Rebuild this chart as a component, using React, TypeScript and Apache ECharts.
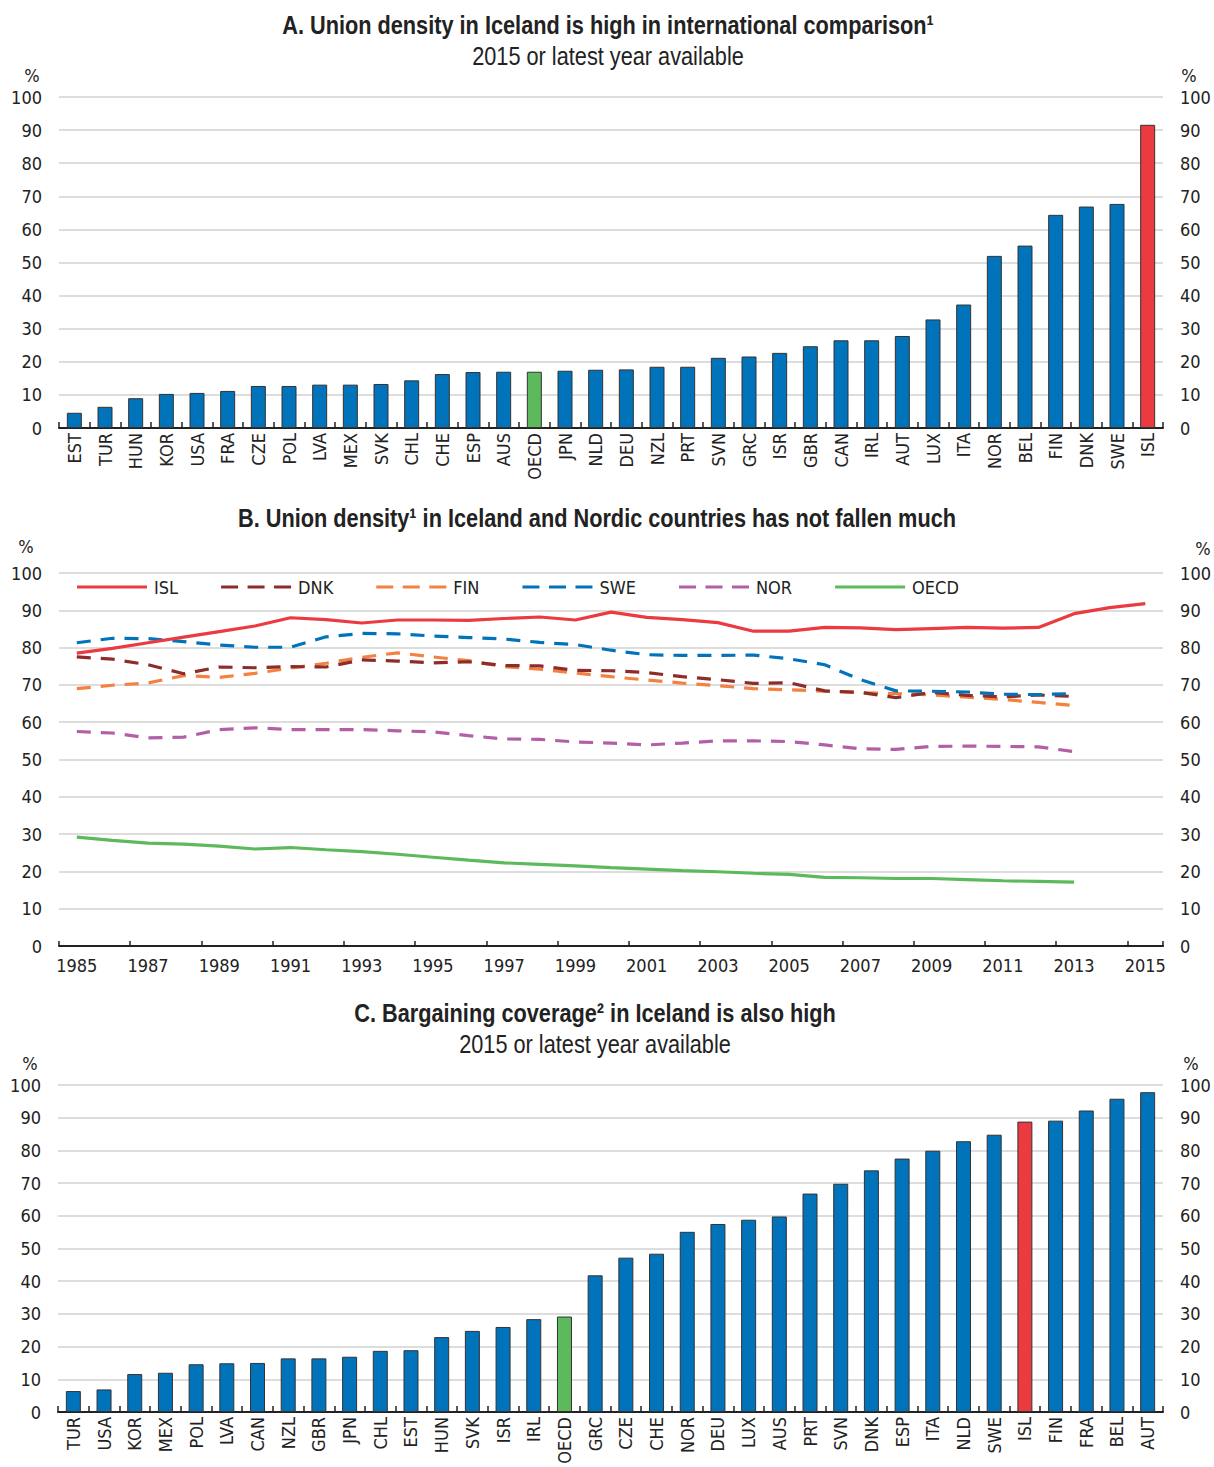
import React, { useEffect, useRef } from "react";
import * as echarts from "echarts";

// ---------- Data ----------
const A_CATS = ["EST","TUR","HUN","KOR","USA","FRA","CZE","POL","LVA","MEX","SVK","CHL","CHE","ESP","AUS","OECD","JPN","NLD","DEU","NZL","PRT","SVN","GRC","ISR","GBR","CAN","IRL","AUT","LUX","ITA","NOR","BEL","FIN","DNK","SWE","ISL"];
const A_VALUES = [4.6,6.4,9.0,10.3,10.6,11.2,12.7,12.7,13.1,13.1,13.3,14.4,16.3,16.9,17.0,17.0,17.3,17.6,17.7,18.5,18.5,21.2,21.6,22.7,24.7,26.5,26.5,27.8,32.8,37.3,52.0,55.1,64.4,66.9,67.7,91.6];

const B_YEARS = ["1985","1986","1987","1988","1989","1990","1991","1992","1993","1994","1995","1996","1997","1998","1999","2000","2001","2002","2003","2004","2005","2006","2007","2008","2009","2010","2011","2012","2013","2014","2015"];
const B_ISL = [78.5,79.8,81.3,82.8,84.3,85.8,88.0,87.5,86.6,87.4,87.4,87.3,87.8,88.2,87.4,89.5,88.1,87.5,86.7,84.4,84.4,85.4,85.3,84.8,85.1,85.4,85.2,85.4,89.1,90.7,91.8];
const B_DNK = [77.5,76.9,75.4,73.0,74.8,74.6,74.9,74.8,76.7,76.4,75.9,76.2,75.2,75.1,73.9,73.8,73.3,72.2,71.4,70.4,70.6,68.4,68.0,66.6,68.0,67.2,66.8,67.3,66.9];
const B_FIN = [69.0,69.9,70.5,72.5,72.0,73.1,74.5,75.8,77.4,78.6,77.5,76.5,74.9,74.2,73.2,72.2,71.3,70.5,69.8,69.0,68.7,68.3,67.9,67.7,67.3,66.7,66.1,65.3,64.5];
const B_SWE = [81.3,82.5,82.4,81.6,80.7,80.1,80.1,82.9,83.8,83.7,83.1,82.7,82.3,81.4,80.8,79.3,78.1,77.9,77.9,78.0,77.0,75.4,71.4,68.4,68.3,68.1,67.5,67.4,67.7];
const B_NOR = [57.5,57.1,55.8,56.0,58.0,58.5,58.0,58.0,58.0,57.7,57.4,56.4,55.5,55.4,54.7,54.4,53.9,54.4,55.0,55.0,54.8,53.9,52.9,52.7,53.5,53.6,53.5,53.4,52.1];
const B_OECD = [29.2,28.3,27.6,27.3,26.8,26.0,26.4,25.8,25.3,24.6,23.8,23.0,22.3,21.9,21.5,21.0,20.6,20.2,19.9,19.5,19.2,18.4,18.3,18.1,18.1,17.8,17.5,17.3,17.1];

const C_CATS = ["TUR","USA","KOR","MEX","POL","LVA","CAN","NZL","GBR","JPN","CHL","EST","HUN","SVK","ISR","IRL","OECD","GRC","CZE","CHE","NOR","DEU","LUX","AUS","PRT","SVN","DNK","ESP","ITA","NLD","SWE","ISL","FIN","FRA","BEL","AUT"];
const C_VALUES = [6.4,6.9,11.6,12.0,14.6,14.9,15.0,16.4,16.4,16.9,18.7,18.9,22.9,24.8,26.0,28.4,29.2,41.8,47.2,48.4,55.1,57.5,58.8,59.8,66.8,69.8,73.9,77.5,79.9,82.8,84.8,88.8,89.1,92.2,95.8,97.8];

const Y_TICKS_MAX = 100;
const Y_TICKS_STEP = 10;

// ---------- Styles ----------
const FONT = "'DejaVu Sans Condensed', 'Liberation Sans Narrow', sans-serif";
const TITLE_FONT = "'Liberation Sans', Arial, sans-serif";
const TXT = "#222222";
const BLUE = "#0073BA";
const GREEN = "#5CBA5C";
const RED = "#EB3A40";
const DARKRED = "#8C2D2A";
const ORANGE = "#F58140";
const PURPLE = "#B35FA6";
const GRID_COLOR = "#d2d2d2";
const LBL = 18;

const ICON_SOLID = "path://M0,0h70v3h-70z";
const ICON_DASH = "path://M0,0h17v3h-17zM26.5,0h17v3h-17zM53,0h17v3h-17z";

function barColor(cat: string) {
  if (cat === "OECD") return GREEN;
  if (cat === "ISL") return RED;
  return BLUE;
}

function makeYAxes(gridIndex: number) {
  const common = {
    gridIndex,
    type: "value",
    min: 0,
    max: Y_TICKS_MAX,
    interval: Y_TICKS_STEP,
    axisLine: { show: false },
    axisTick: { show: false },
    axisLabel: { fontSize: LBL, fontFamily: FONT, color: TXT, margin: 17 },
  };
  return [
    { ...common, position: "left", splitLine: { show: true, lineStyle: { color: GRID_COLOR, width: 1.5 } } },
    { ...common, position: "right", splitLine: { show: false } },
  ];
}

function catAxis(gridIndex: number, data: string[], rotate: boolean) {
  return {
    gridIndex,
    type: "category",
    data,
    boundaryGap: true,
    axisLine: { show: true, lineStyle: { color: TXT, width: 2 } },
    axisTick: rotate
      ? { show: true, inside: true, length: 6, lineStyle: { color: TXT, width: 1.5 } }
      : { show: true, inside: true, length: 5, interval: 1, lineStyle: { color: TXT, width: 1.5 } },
    axisLabel: rotate
      ? { rotate: 90, margin: 5, fontSize: LBL, fontFamily: FONT, color: TXT, interval: 0 }
      : { margin: 10, fontSize: LBL, fontFamily: FONT, color: TXT, interval: 1 },
  };
}

function lineSeries(name: string, data: number[], color: string, dashed: boolean, z: number) {
  return {
    name,
    type: "line",
    xAxisIndex: 1,
    yAxisIndex: 2,
    data,
    symbol: "none",
    showSymbol: false,
    z,
    itemStyle: { color },
    lineStyle: { color, width: 3.2, type: dashed ? [14, 10] : "solid", cap: "butt" },
  };
}

function titleEl(text: string, x: number, y: number, size: number, bold: boolean) {
  return {
    type: "text",
    x,
    y,
    scaleX: 0.82,
    style: {
      text,
      fill: TXT,
      font: `${bold ? "bold " : ""}${size}px ${TITLE_FONT}`,
      textAlign: "center",
      textVerticalAlign: "middle",
    },
  };
}

function pctEl(x: number, y: number) {
  return {
    type: "text",
    x,
    y,
    style: {
      text: "%",
      fill: TXT,
      font: `${LBL}px ${FONT}`,
      textAlign: "center",
      textVerticalAlign: "middle",
    },
  };
}

export default function App() {
  const ref = useRef<HTMLDivElement>(null);
  useEffect(() => {
    if (!ref.current) return;
    const chart = echarts.init(ref.current, undefined, { renderer: "svg" });
    const option = {
      animation: false,
      backgroundColor: "#ffffff",
      grid: [
        { left: 59, right: 1214 - 1163, top: 97, height: 331 },
        { left: 59, right: 1214 - 1167, top: 573, height: 373 },
        { left: 58, right: 1214 - 1163, top: 1085, height: 327 },
      ],
      xAxis: [catAxis(0, A_CATS, true), catAxis(1, B_YEARS, false), catAxis(2, C_CATS, true)],
      yAxis: [...makeYAxes(0), ...makeYAxes(1), ...makeYAxes(2)],
      legend: {
        data: [
          { name: "ISL", icon: ICON_SOLID },
          { name: "DNK", icon: ICON_DASH },
          { name: "FIN", icon: ICON_DASH },
          { name: "SWE", icon: ICON_DASH },
          { name: "NOR", icon: ICON_DASH },
          { name: "OECD", icon: ICON_SOLID },
        ],
        left: 77,
        top: 577,
        padding: 0,
        itemWidth: 70,
        itemHeight: 3.5,
        itemGap: 43,
        textStyle: { fontSize: LBL, fontFamily: FONT, color: TXT, lineHeight: 20, padding: [0, 0, 0, 2] },
      },
      graphic: [
        titleEl("A. Union density in Iceland is high in international comparison¹", 608, 25, 26.5, true),
        titleEl("2015 or latest year available", 608, 56, 26.5, false),
        pctEl(32, 75),
        pctEl(1189, 75),
        titleEl("B. Union density¹ in Iceland and Nordic countries has not fallen much", 597, 518, 26.5, true),
        pctEl(26, 546),
        pctEl(1203, 548),
        titleEl("C. Bargaining coverage² in Iceland is also high", 595, 1013, 26.5, true),
        titleEl("2015 or latest year available", 595, 1044, 26.5, false),
        pctEl(30, 1063),
        pctEl(1191, 1063),
      ],
      series: [
        {
          name: "Union density",
          type: "bar",
          xAxisIndex: 0,
          yAxisIndex: 0,
          barWidth: 15,
          data: A_VALUES.map((v, i) => ({ value: v, itemStyle: { color: barColor(A_CATS[i]) } })),
          itemStyle: { borderColor: "#333333", borderWidth: 1 },
        },
        lineSeries("OECD", B_OECD, GREEN, false, 2),
        lineSeries("NOR", B_NOR, PURPLE, true, 3),
        lineSeries("FIN", B_FIN, ORANGE, true, 4),
        lineSeries("DNK", B_DNK, DARKRED, true, 5),
        lineSeries("SWE", B_SWE, BLUE, true, 6),
        lineSeries("ISL", B_ISL, RED, false, 7),
        {
          name: "Bargaining coverage",
          type: "bar",
          xAxisIndex: 2,
          yAxisIndex: 4,
          barWidth: 15,
          data: C_VALUES.map((v, i) => ({ value: v, itemStyle: { color: barColor(C_CATS[i]) } })),
          itemStyle: { borderColor: "#333333", borderWidth: 1 },
        },
      ],
    };
    chart.setOption(option as any);
    return () => chart.dispose();
  }, []);
  return (
    <div
      ref={ref}
      style={{ position: "absolute", left: 0, top: 0, width: 1214, height: 1467 }}
    />
  );
}
